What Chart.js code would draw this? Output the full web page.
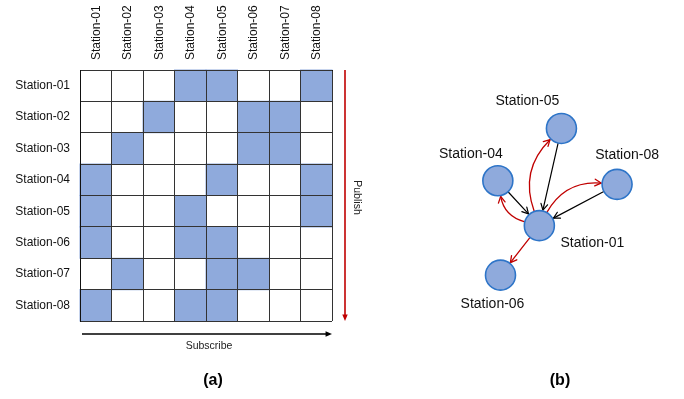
<!DOCTYPE html>
<html>
<head>
<meta charset="utf-8">
<script src="https://cdn.jsdelivr.net/npm/chart.js@4.4.1/dist/chart.umd.min.js"></script>
<style>
  html, body { margin: 0; padding: 0; background: #fff; }
  #wrap { position: relative; width: 684px; height: 399px; }
  #matrix { position: absolute; left: 0; top: 0; }
  #graph { position: absolute; left: 400px; top: 0; }
</style>
</head>
<body>
<div id="wrap">
  <canvas id="matrix" width="400" height="399"></canvas>
  <canvas id="graph" width="284" height="399"></canvas>
</div>
<script>
// --- Data ---
const stations = ['Station-01', 'Station-02', 'Station-03', 'Station-04',
                  'Station-05', 'Station-06', 'Station-07', 'Station-08'];

// rows = publishing station, columns = subscribing station
const pubSub = [
  [0, 0, 0, 1, 1, 0, 0, 1],
  [0, 0, 1, 0, 0, 1, 1, 0],
  [0, 1, 0, 0, 0, 1, 1, 0],
  [1, 0, 0, 0, 1, 0, 0, 1],
  [1, 0, 0, 1, 0, 0, 0, 1],
  [1, 0, 0, 1, 1, 0, 0, 0],
  [0, 1, 0, 0, 1, 1, 0, 0],
  [1, 0, 0, 1, 1, 0, 0, 0]
];

// graph (b): layout position of each node around Station-01
const graphNodes = ['Station-01', 'Station-04', 'Station-05', 'Station-06', 'Station-08'];
const nodeX = [139, 92, 164, 95, 227];
const nodeY = [228, 179, 122, 282, 183];

// --- Styles ---
const FONT = "'Liberation Sans', Arial, sans-serif";
const CELL_BLUE = '#8faadc';
const NODE_BORDER = '#2e75c8';
const RED = '#c00000';
const labelOffsets = {
  'Station-01': [53, 18],
  'Station-04': [-27, -27],
  'Station-05': [-34, -27],
  'Station-06': [-8, 29],
  'Station-08': [10, -29]
};

function fillArrow(ctx, x, y, angle, size, color) {
  ctx.save();
  ctx.fillStyle = color;
  ctx.beginPath();
  ctx.moveTo(x, y);
  ctx.lineTo(x - size * Math.cos(angle - 0.4), y - size * Math.sin(angle - 0.4));
  ctx.lineTo(x - size * Math.cos(angle + 0.4), y - size * Math.sin(angle + 0.4));
  ctx.closePath();
  ctx.fill();
  ctx.restore();
}

function openArrow(ctx, x, y, angle, size) {
  ctx.beginPath();
  ctx.moveTo(x - size * Math.cos(angle - 0.5), y - size * Math.sin(angle - 0.5));
  ctx.lineTo(x, y);
  ctx.lineTo(x - size * Math.cos(angle + 0.5), y - size * Math.sin(angle + 0.5));
  ctx.stroke();
}

// --- (a) publish / subscribe matrix ---
const cells = [];
pubSub.forEach((row, r) => row.forEach((v, c) => {
  if (v) cells.push({ x: stations[c], y: stations[r] });
}));

const matrixDecor = {
  id: 'matrixDecor',
  afterDraw(chart) {
    const { ctx, chartArea: a } = chart;
    ctx.save();
    // publish arrow (red, downwards)
    const px = a.right + 13;
    ctx.strokeStyle = RED;
    ctx.lineWidth = 1.6;
    ctx.beginPath();
    ctx.moveTo(px, a.top);
    ctx.lineTo(px, a.bottom - 4);
    ctx.stroke();
    fillArrow(ctx, px, a.bottom, Math.PI / 2, 7, RED);
    // subscribe arrow (black, to the right)
    const sy = a.bottom + 13;
    ctx.strokeStyle = '#000';
    ctx.lineWidth = 1.6;
    ctx.beginPath();
    ctx.moveTo(a.left + 2, sy);
    ctx.lineTo(a.right - 4, sy);
    ctx.stroke();
    fillArrow(ctx, a.right, sy, 0, 7, '#000');

    ctx.fillStyle = '#222';
    ctx.font = '10.5px ' + FONT;
    ctx.textAlign = 'center';
    ctx.textBaseline = 'middle';
    ctx.fillText('Subscribe', (a.left + a.right) / 2 + 3, a.bottom + 25);
    ctx.save();
    ctx.translate(a.right + 25, (a.top + a.bottom) / 2 + 2);
    ctx.rotate(Math.PI / 2);
    ctx.fillText('Publish', 0, 0);
    ctx.restore();

    ctx.fillStyle = '#000';
    ctx.font = 'bold 16px ' + FONT;
    ctx.fillText('(a)', (a.left + a.right) / 2 + 7, 381);
    ctx.restore();
  }
};

new Chart(document.getElementById('matrix'), {
  type: 'scatter',
  data: {
    datasets: [{
      data: cells,
      pointStyle: 'rect',
      pointRadius: (ctx) => (ctx.chart.chartArea ? (ctx.chart.chartArea.width / 8 + 1) / Math.SQRT2 : 0),
      backgroundColor: CELL_BLUE,
      borderWidth: 0
    }]
  },
  options: {
    responsive: false,
    animation: false,
    events: [],
    layout: { padding: { left: 0, top: 0, right: 68, bottom: 78 } },
    plugins: { legend: { display: false }, tooltip: { enabled: false } },
    scales: {
      x: {
        type: 'category',
        labels: stations,
        position: 'top',
        offset: true,
        grid: { offset: true, color: '#333', lineWidth: 1, drawTicks: false, z: 1 },
        border: { color: '#111', width: 1, z: 1 },
        ticks: { minRotation: 90, maxRotation: 90, padding: 10, labelOffset: 15, color: '#111', font: { family: FONT, size: 12 } },
        afterFit: (s) => { s.height = 70; }
      },
      y: {
        type: 'category',
        labels: stations,
        offset: true,
        grid: { offset: true, color: '#333', lineWidth: 1, drawTicks: false, z: 1 },
        border: { color: '#111', width: 1, z: 1 },
        ticks: { padding: 10, color: '#111', font: { family: FONT, size: 12 } },
        afterFit: (s) => { s.width = 80; }
      }
    }
  },
  plugins: [matrixDecor]
});

// --- (b) graph around Station-01 ---
const hub = 0;
const inbound = [];   // stations linked into Station-01 (black)
const outbound = [];  // stations Station-01 sends to (red)
stations.forEach((s, i) => {
  if (i === hub) return;
  if (pubSub[hub][i]) inbound.push(s);
  if (pubSub[i][hub]) outbound.push(s);
});

const NODE_R = 15;
const graphEdges = {
  id: 'graphEdges',
  beforeDatasetsDraw(chart) {
    const { ctx, scales: { x, y } } = chart;
    const pos = (name) => {
      const i = graphNodes.indexOf(name);
      return [x.getPixelForValue(nodeX[i]), y.getPixelForValue(nodeY[i])];
    };
    const [hx, hy] = pos(stations[hub]);
    ctx.save();
    ctx.lineCap = 'round';
    ctx.lineJoin = 'round';

    // black straight arrows into the hub
    ctx.strokeStyle = '#000';
    ctx.lineWidth = 1.2;
    inbound.forEach((s) => {
      const [sx, sy] = pos(s);
      const ang = Math.atan2(hy - sy, hx - sx);
      const x0 = sx + NODE_R * Math.cos(ang), y0 = sy + NODE_R * Math.sin(ang);
      const x1 = hx - (NODE_R + 1) * Math.cos(ang), y1 = hy - (NODE_R + 1) * Math.sin(ang);
      ctx.beginPath();
      ctx.moveTo(x0, y0);
      ctx.lineTo(x1, y1);
      ctx.stroke();
      openArrow(ctx, x1, y1, ang, 7);
    });

    // red arrows out of the hub, curved when the link goes both ways
    ctx.strokeStyle = RED;
    ctx.lineWidth = 1.3;
    outbound.forEach((s) => {
      const [tx, ty] = pos(s);
      const dx = tx - hx, dy = ty - hy;
      if (inbound.includes(s)) {
        const k = 0.32;
        const cx = (hx + tx) / 2 + dy * k;
        const cy = (hy + ty) / 2 - dx * k;
        const a0 = Math.atan2(cy - hy, cx - hx);
        const a1 = Math.atan2(cy - ty, cx - tx);
        const x0 = hx + NODE_R * Math.cos(a0), y0 = hy + NODE_R * Math.sin(a0);
        const x1 = tx + (NODE_R + 1) * Math.cos(a1), y1 = ty + (NODE_R + 1) * Math.sin(a1);
        ctx.beginPath();
        ctx.moveTo(x0, y0);
        ctx.quadraticCurveTo(cx, cy, x1, y1);
        ctx.stroke();
        openArrow(ctx, x1, y1, Math.atan2(y1 - cy, x1 - cx), 7);
      } else {
        const ang = Math.atan2(dy, dx);
        const x0 = hx + NODE_R * Math.cos(ang), y0 = hy + NODE_R * Math.sin(ang);
        const x1 = tx - (NODE_R + 1) * Math.cos(ang), y1 = ty - (NODE_R + 1) * Math.sin(ang);
        ctx.beginPath();
        ctx.moveTo(x0, y0);
        ctx.lineTo(x1, y1);
        ctx.stroke();
        openArrow(ctx, x1, y1, ang, 7);
      }
    });
    ctx.restore();
  },
  afterDatasetsDraw(chart) {
    const { ctx, scales: { x, y } } = chart;
    ctx.save();
    ctx.fillStyle = '#111';
    ctx.font = '14px ' + FONT;
    ctx.textAlign = 'center';
    ctx.textBaseline = 'middle';
    graphNodes.forEach((name, i) => {
      const off = labelOffsets[name];
      ctx.fillText(name, x.getPixelForValue(nodeX[i]) + off[0], y.getPixelForValue(nodeY[i]) + off[1]);
    });
    ctx.fillStyle = '#000';
    ctx.font = 'bold 16px ' + FONT;
    ctx.fillText('(b)', 160, 381);
    ctx.restore();
  }
};

new Chart(document.getElementById('graph'), {
  type: 'scatter',
  data: {
    datasets: [{
      data: graphNodes.map((n, i) => ({ x: nodeX[i], y: nodeY[i] })),
      pointRadius: NODE_R,
      backgroundColor: CELL_BLUE,
      borderColor: NODE_BORDER,
      borderWidth: 1.6
    }]
  },
  options: {
    responsive: false,
    animation: false,
    events: [],
    layout: { padding: 0 },
    plugins: { legend: { display: false }, tooltip: { enabled: false } },
    scales: {
      x: { type: 'linear', min: 0, max: 284, display: false },
      y: { type: 'linear', min: 0, max: 399, reverse: true, display: false }
    }
  },
  plugins: [graphEdges]
});
</script>
</body>
</html>
